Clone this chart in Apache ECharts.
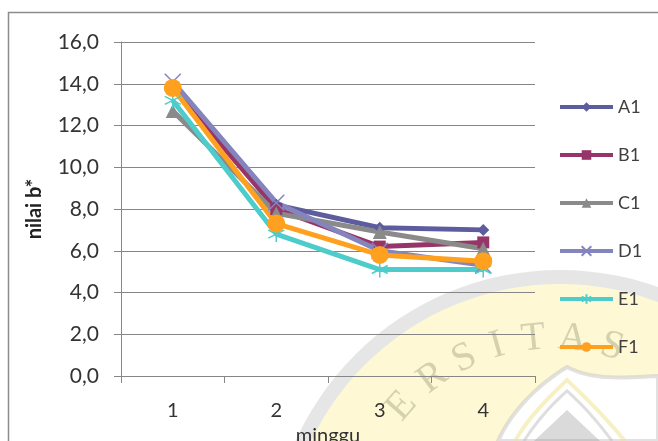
<!DOCTYPE html>
<html>
<head>
<meta charset="utf-8">
<script src="https://cdn.jsdelivr.net/npm/echarts@6/dist/echarts.min.js"></script>
<style>
  html, body { margin: 0; padding: 0; background: #ffffff; }
  #chart { width: 658px; height: 441px; }
</style>
</head>
<body>
<div id="chart"></div>
<script>
// Weekly b* values per sample
const weeks = ['1', '2', '3', '4'];
const seriesNames = ['A1', 'B1', 'C1', 'D1', 'E1', 'F1'];
const A1 = [13.9, 8.2, 7.1, 7.0];
const B1 = [13.8, 8.0, 6.2, 6.4];
const C1 = [12.7, 7.8, 6.9, 6.1];
const D1 = [14.1, 8.3, 6.0, 5.3];
const E1 = [13.2, 6.8, 5.1, 5.1];
const F1 = [13.8, 7.3, 5.8, 5.5];
const yTicks = { min: 0, max: 16, step: 2 };

const values = [A1, B1, C1, D1, E1, F1];
const colors = ['#5c5c9e', '#963567', '#8a8a8a', '#8585bd', '#4ecccc', '#ffa01e'];
const symbols = [
  'diamond',
  'rect',
  'triangle',
  'path://M0,0L10,10M10,0L0,10',
  'path://M5,0L5,10M0,2.5L10,7.5M0,7.5L10,2.5',
  'circle'
];
const symbolSizes = [12, 12, 14, 16, 16, 18];
const strokeOnly = [false, false, false, true, true, false];

const font = 'Lato, "Open Sans", "Liberation Sans", sans-serif';

// Sample a cubic Bezier into a point list (for polygon / polyline shapes)
function cubic(p0, p1, p2, p3, n) {
  const pts = [];
  for (let k = 0; k <= n; k++) {
    const t = k / n, u = 1 - t;
    pts.push([
      u * u * u * p0[0] + 3 * u * u * t * p1[0] + 3 * u * t * t * p2[0] + t * t * t * p3[0],
      u * u * u * p0[1] + 3 * u * u * t * p1[1] + 3 * u * t * t * p2[1] + t * t * t * p3[1]
    ]);
  }
  return pts;
}
function arch(left, apex, right, lc1, lc2, rc1, rc2) {
  return cubic(left, lc1, lc2, apex, 16).concat(cubic(apex, rc1, rc2, right, 16).slice(1));
}

// Faint seal in the background: outer band, yellow field, pointed inner arch, lettering
const letters = ['E', 'R', 'S', 'I', 'T', 'A', 'S'];
const letterAngles = [-48.5, -36.5, -26, -16, -5.6, 5.6, 17];
const letterR = 202;
const letterCx = 553, letterCy = 540;

const innerEdge = arch([498, 441], [567, 367], [658, 376], [512, 410], [538, 385], [592, 380], [620, 378]);
const stripeA = arch([515, 441], [567, 380], [625, 441], [528, 418], [548, 398], [586, 398], [606, 418]);
const stripeB = arch([524, 441], [567, 391], [612, 441], [536, 422], [552, 404], [582, 404], [598, 422]);

const sealGraphics = [
  { type: 'circle', z: -10, silent: true,
    shape: { cx: 560, cy: 560, r: 276 },
    style: { fill: 'rgba(253,243,170,0.5)' } },
  { type: 'ring', z: -10, silent: true,
    shape: { cx: 560, cy: 560, r: 290, r0: 276 },
    style: { fill: 'rgba(205,205,205,0.5)' } },
  { type: 'polygon', z: -10, silent: true,
    shape: { points: innerEdge.concat([[658, 441]]) },
    style: { fill: '#ffffff', stroke: 'rgba(200,200,200,0.55)', lineWidth: 4 } },
  { type: 'polyline', z: -10, silent: true,
    shape: { points: stripeA },
    style: { fill: null, stroke: 'rgba(240,228,150,0.55)', lineWidth: 4 } },
  { type: 'polyline', z: -10, silent: true,
    shape: { points: stripeB },
    style: { fill: null, stroke: 'rgba(190,190,190,0.5)', lineWidth: 3 } },
  { type: 'polygon', z: -10, silent: true,
    shape: { points: [[567, 410], [600, 441], [534, 441]] },
    style: { fill: 'rgba(150,150,150,0.35)' } }
];
letters.forEach(function (ch, i) {
  const a = letterAngles[i] * Math.PI / 180;
  sealGraphics.push({
    type: 'text', z: -9, silent: true,
    x: letterCx + letterR * Math.sin(a),
    y: letterCy - letterR * Math.cos(a),
    rotation: -a,
    style: {
      text: ch, fill: 'rgba(195,192,160,0.7)',
      font: '40px "Liberation Serif", "DejaVu Serif", serif',
      align: 'center', verticalAlign: 'middle'
    }
  });
});

const chart = echarts.init(document.getElementById('chart'), null, { renderer: 'canvas' });

chart.setOption({
  backgroundColor: '#ffffff',
  animation: false,
  graphic: sealGraphics.concat([
    { type: 'rect', z: 100, silent: true,
      shape: { x: 8.5, y: 12.5, width: 700, height: 500 },
      style: { fill: 'none', stroke: '#8c8c8c', lineWidth: 1.5 } }
  ]),
  grid: { left: 121, right: 123, top: 42, bottom: 65, containLabel: false, outerBoundsMode: 'none' },
  legend: {
    orient: 'vertical',
    left: 553,
    top: 93,
    itemWidth: 53,
    itemHeight: 12,
    itemGap: 30,
    data: seriesNames,
    lineStyle: { width: 4 },
    textStyle: { fontFamily: font, fontSize: 18, color: '#404040' }
  },
  xAxis: {
    type: 'category',
    data: weeks,
    boundaryGap: true,
    name: 'minggu',
    nameLocation: 'middle',
    nameGap: 43,
    nameTextStyle: { fontFamily: font, fontSize: 20, color: '#333333' },
    axisLine: { lineStyle: { color: '#868686', width: 1 } },
    axisTick: { show: true, length: 7, lineStyle: { color: '#868686' } },
    axisLabel: { margin: 25, fontFamily: font, fontSize: 20, color: '#333333' },
    splitLine: { show: false }
  },
  yAxis: {
    type: 'value',
    min: yTicks.min,
    max: yTicks.max,
    interval: yTicks.step,
    name: 'nilai b*',
    nameLocation: 'middle',
    nameGap: 76,
    nameRotate: 90,
    nameTextStyle: { fontFamily: font, fontSize: 20, fontWeight: 'bold', color: '#222222' },
    axisLine: { show: true, lineStyle: { color: '#868686', width: 1 } },
    axisTick: { show: true, length: 7, lineStyle: { color: '#868686' } },
    axisLabel: {
      margin: 22, fontFamily: font, fontSize: 21, color: '#333333',
      formatter: function (v) { return v.toFixed(1).replace('.', ','); }
    },
    splitLine: { show: true, lineStyle: { color: '#868686', width: 1 } }
  },
  series: seriesNames.map(function (name, i) {
    return {
      name: name,
      type: 'line',
      data: values[i],
      color: colors[i],
      symbol: symbols[i],
      symbolSize: symbolSizes[i],
      showAllSymbol: true,
      lineStyle: { width: 5, color: colors[i] },
      itemStyle: strokeOnly[i]
        ? { color: colors[i], borderColor: colors[i], borderWidth: 1.5 }
        : { color: colors[i], borderWidth: 0 },
      emphasis: { disabled: true }
    };
  })
});
</script>
</body>
</html>
